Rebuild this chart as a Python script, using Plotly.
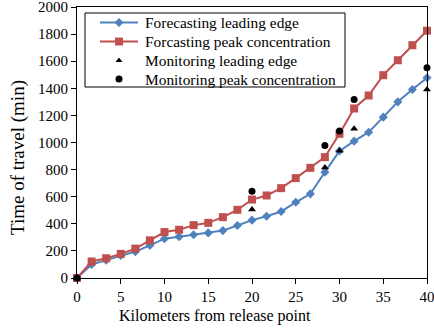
import plotly.graph_objects as go

km = [0, 1.67, 3.33, 5, 6.67, 8.33, 10, 11.67, 13.33, 15, 16.67, 18.33, 20,
      21.67, 23.33, 25, 26.67, 28.33, 30, 31.67, 33.33, 35, 36.67, 38.33, 40]
fc_leading = [0, 100, 132, 166, 195, 241, 290, 305, 319, 333, 350, 387, 427,
              456, 491, 559, 621, 781, 938, 1010, 1076, 1187, 1300, 1391, 1478]
fc_peak = [0, 122, 146, 178, 217, 278, 339, 356, 390, 407, 449, 503, 579,
           609, 663, 737, 813, 892, 1064, 1251, 1347, 1497, 1607, 1718, 1825]
mon_km = [0, 20, 28.33, 30, 31.67, 40]
mon_leading = [0, 505, 815, 940, 1101, 1391]
mon_peak = [0, 641, 978, 1085, 1317, 1551]

series_names = ["Forecasting leading edge", "Forcasting peak concentration",
                "Monitoring leading edge", "Monitoring peak concentration"]
x_ticks = [0, 5, 10, 15, 20, 25, 30, 35, 40]
y_ticks = list(range(0, 2001, 200))

BLUE = "#4F81BD"
RED = "#C0504D"
SERIF = "Liberation Serif"

styles = [
    dict(mode="lines+markers", line=dict(color=BLUE, width=2),
         marker=dict(symbol="diamond", size=7, color=BLUE)),
    dict(mode="lines+markers", line=dict(color=RED, width=2),
         marker=dict(symbol="square", size=8, color=RED)),
    dict(mode="markers", marker=dict(symbol="triangle-up", size=7, color="black")),
    dict(mode="markers", marker=dict(symbol="circle", size=7, color="black")),
]

fig = go.Figure()
data_xy = [(km, fc_leading), (km, fc_peak), (mon_km, mon_leading), (mon_km, mon_peak)]
for (xs, ys), name, st in zip(data_xy, series_names, styles):
    fig.add_trace(go.Scatter(x=xs, y=ys, name=name, showlegend=False,
                             cliponaxis=False, **st))

# Hand-made legend (overlay axis measured in pixels of the plot area)
PW, PH = 350, 271
box = dict(x0=8, x1=268, y0=191, y1=265)
row_y = [255.5, 236.5, 217.5, 199]
key_x0, key_x1, key_xm, text_x = 23, 61, 42, 66
legend_marker_sizes = [7, 8, 6, 7]
fig.add_shape(type="rect", xref="x2", yref="y2", layer="below",
              fillcolor="white", line=dict(color="black", width=1), **box)
for i, (name, st) in enumerate(zip(series_names, styles)):
    ry = row_y[i]
    if "line" in st:
        fig.add_trace(go.Scatter(x=[key_x0, key_x1], y=[ry, ry], mode="lines",
                                 line=st["line"], xaxis="x2", yaxis="y2",
                                 showlegend=False, hoverinfo="skip"))
    m = dict(st["marker"])
    m["size"] = legend_marker_sizes[i]
    fig.add_trace(go.Scatter(x=[key_xm], y=[ry], mode="markers", marker=m,
                             xaxis="x2", yaxis="y2", showlegend=False,
                             hoverinfo="skip"))
    fig.add_annotation(x=text_x, y=ry, xref="x2", yref="y2", text=name,
                       showarrow=False, xanchor="left", yanchor="middle",
                       font=dict(family=SERIF, size=15.4, color="black"))

# Axis titles (placed as in the reference)
fig.add_annotation(x=(215 - 77) / PW, y=(278 - 316) / PH, xref="paper", yref="paper",
                   text="Kilometers from release point", showarrow=False,
                   xanchor="center", yanchor="middle",
                   font=dict(family=SERIF, size=16, color="black"))
fig.add_annotation(x=(18 - 77) / PW, y=(278 - 158) / PH, xref="paper", yref="paper",
                   text="Time of travel (min)", showarrow=False, textangle=-90,
                   xanchor="center", yanchor="middle",
                   font=dict(family=SERIF, size=19, color="black"))

fig.update_layout(
    width=434, height=330,
    margin=dict(l=77, r=7, t=7, b=52, autoexpand=False),
    paper_bgcolor="white", plot_bgcolor="white",
    font=dict(family=SERIF, size=15, color="black"),
    showlegend=False,
    xaxis=dict(range=[0, 40], tickvals=x_ticks, automargin=False,
               ticklabeloverflow="allow",
               showgrid=False, zeroline=False, showline=True, linecolor="black",
               linewidth=1, mirror=True, ticks="outside", ticklen=5,
               tickcolor="black", tickfont=dict(family=SERIF, size=15)),
    yaxis=dict(range=[0, 2000], tickvals=y_ticks, automargin=False,
               ticklabeloverflow="allow",
               showgrid=False, zeroline=False, showline=True, linecolor="black",
               linewidth=1, mirror=True, ticks="outside", ticklen=5,
               tickcolor="black", tickfont=dict(family=SERIF, size=15)),
    xaxis2=dict(range=[0, PW], overlaying="x", anchor="y2", visible=False,
                fixedrange=True),
    yaxis2=dict(range=[0, PH], overlaying="y", anchor="x2", visible=False,
                fixedrange=True),
)

fig.write_html("out.html")
